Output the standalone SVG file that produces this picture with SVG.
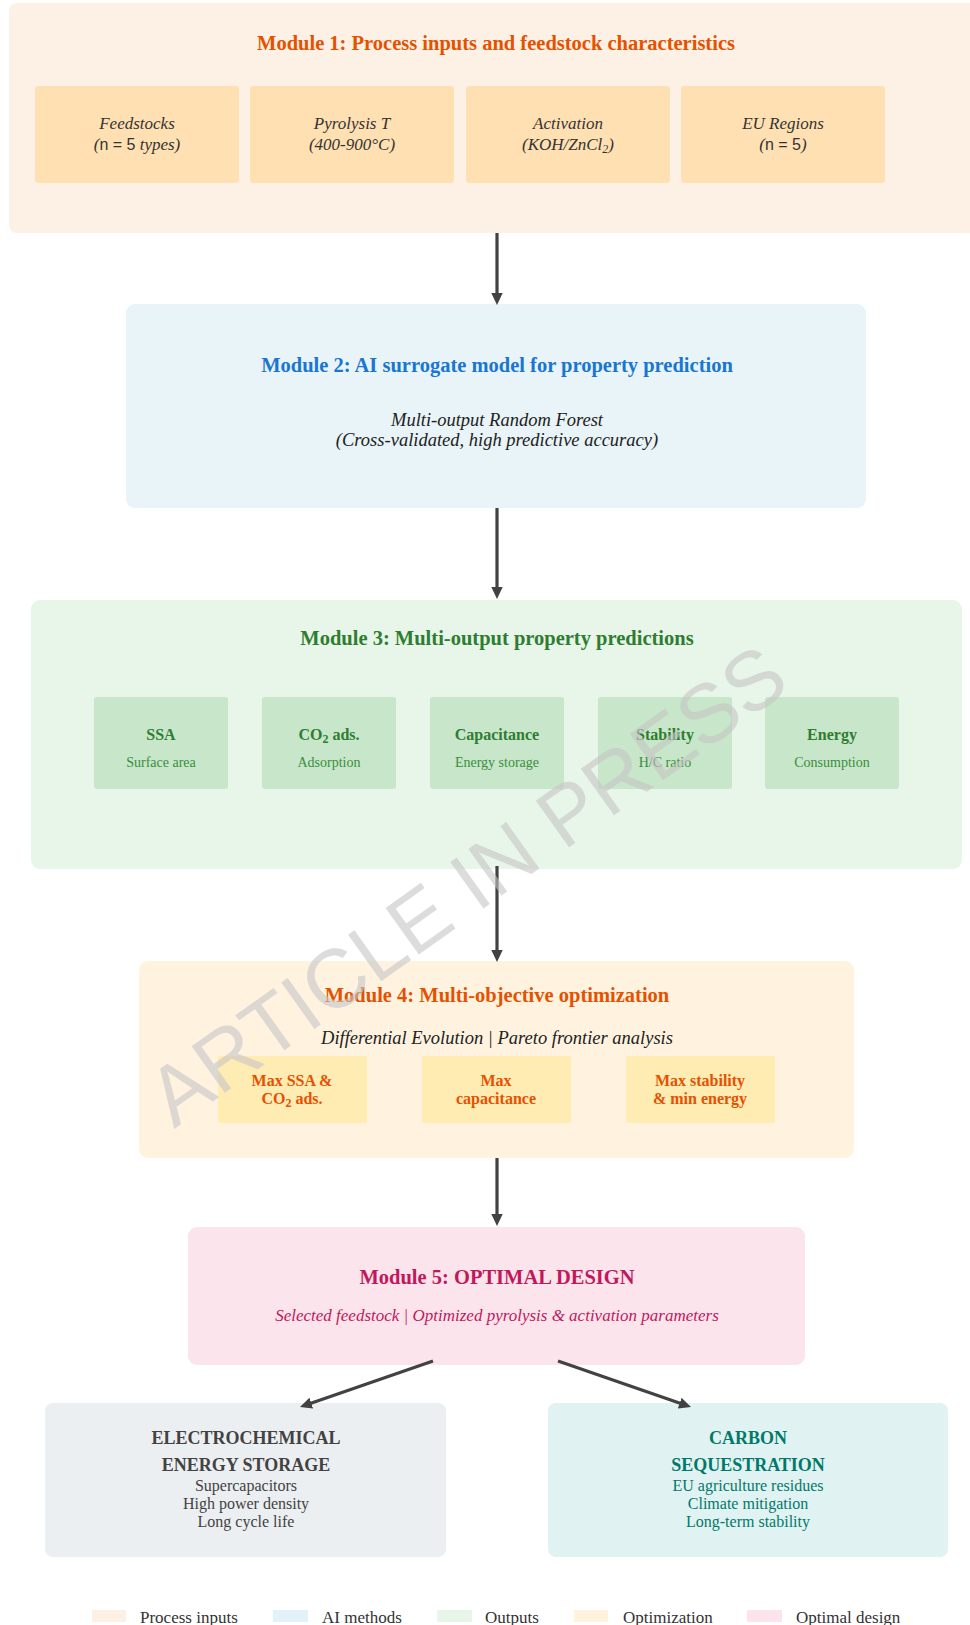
<svg xmlns="http://www.w3.org/2000/svg" width="970" height="1625" viewBox="0 0 970 1625">
<defs>
<style>
text{font-family:"Liberation Serif","Times New Roman",serif}
.title{font-size:20.5px;font-weight:bold;text-anchor:middle}
.it{font-size:18.5px;font-style:italic;fill:#222;text-anchor:middle}
.in{font-size:17px;font-style:italic;fill:#333;text-anchor:middle}
.sans{font-family:"Liberation Sans",Arial,sans-serif;font-style:normal}
.gb{font-size:16px;font-weight:bold;fill:#2e7d32;text-anchor:middle}
.gs{font-size:14px;fill:#388e3c;text-anchor:middle}
.ob{font-size:16px;font-weight:bold;fill:#e65100;text-anchor:middle}
.bt{font-size:18px;font-weight:bold;text-anchor:middle}
.bl{font-size:16px;text-anchor:middle}
.leg{font-size:17px;fill:#333}
.wm{font-family:"Liberation Sans",Arial,sans-serif;font-size:83px;fill:#c4c4c4;fill-opacity:0.6;text-anchor:middle}
.conn{stroke:#424242;stroke-width:3.2;fill:none;marker-end:url(#ah)}
</style>
<marker id="ah" markerUnits="userSpaceOnUse" markerWidth="13" markerHeight="13" viewBox="0 0 13 13" refX="5" refY="6.5" orient="auto">
<path d="M0,0.8 L12,6.5 L0,12.2 z" fill="#424242"/>
</marker>
</defs>
<rect width="970" height="1625" fill="#ffffff"/>

<g id="module1">
<rect x="9" y="3" width="975" height="230" rx="8" fill="#fdf1e5"/>
<text class="title" x="496" y="50" fill="#e65100">Module 1: Process inputs and feedstock characteristics</text>
<g id="m1-feedstocks">
<rect x="35" y="86" width="204" height="97" rx="3" fill="#ffe0b2"/>
<text class="in" x="137" y="129">Feedstocks</text>
<text class="in" x="137" y="150">(<tspan class="sans" font-size="16">n = 5</tspan> types)</text>
</g>
<g id="m1-pyrolysis">
<rect x="250" y="86" width="204" height="97" rx="3" fill="#ffe0b2"/>
<text class="in" x="352" y="129">Pyrolysis T</text>
<text class="in" x="352" y="150">(400-900°C)</text>
</g>
<g id="m1-activation">
<rect x="466" y="86" width="204" height="97" rx="3" fill="#ffe0b2"/>
<text class="in" x="568" y="129">Activation</text>
<text class="in" x="568" y="150">(KOH/ZnCl<tspan font-size="12" dy="3">2</tspan><tspan dy="-3">)</tspan></text>
</g>
<g id="m1-regions">
<rect x="681" y="86" width="204" height="97" rx="3" fill="#ffe0b2"/>
<text class="in" x="783" y="129">EU Regions</text>
<text class="in" x="783" y="150">(<tspan class="sans" font-size="16">n = 5</tspan>)</text>
</g>
</g>

<g id="module2">
<rect x="126" y="304" width="740" height="204" rx="9" fill="#e8f4f8"/>
<text class="title" x="497" y="372" fill="#1976d2">Module 2: AI surrogate model for property prediction</text>
<text class="it" x="497" y="426">Multi-output Random Forest</text>
<text class="it" x="497" y="446">(Cross-validated, high predictive accuracy)</text>
</g>

<g id="module3">
<rect x="31" y="600" width="931" height="269" rx="9" fill="#e8f5e9"/>
<text class="title" x="497" y="645" fill="#2e7d32">Module 3: Multi-output property predictions</text>
<g id="m3-ssa">
<rect x="94" y="697" width="134" height="92" rx="3" fill="#c8e6c9"/>
<text class="gb" x="161" y="740">SSA</text>
<text class="gs" x="161" y="767">Surface area</text>
</g>
<g id="m3-co2">
<rect x="262" y="697" width="134" height="92" rx="3" fill="#c8e6c9"/>
<text class="gb" x="329" y="740">CO<tspan font-size="12" dy="3">2</tspan><tspan dy="-3"> ads.</tspan></text>
<text class="gs" x="329" y="767">Adsorption</text>
</g>
<g id="m3-cap">
<rect x="430" y="697" width="134" height="92" rx="3" fill="#c8e6c9"/>
<text class="gb" x="497" y="740">Capacitance</text>
<text class="gs" x="497" y="767">Energy storage</text>
</g>
<g id="m3-stab">
<rect x="598" y="697" width="134" height="92" rx="3" fill="#c8e6c9"/>
<text class="gb" x="665" y="740">Stability</text>
<text class="gs" x="665" y="767">H/C ratio</text>
</g>
<g id="m3-energy">
<rect x="765" y="697" width="134" height="92" rx="3" fill="#c8e6c9"/>
<text class="gb" x="832" y="740">Energy</text>
<text class="gs" x="832" y="767">Consumption</text>
</g>
</g>

<g id="module4">
<rect x="139" y="961" width="715" height="197" rx="9" fill="#fff3e0"/>
<text class="title" x="497" y="1002" fill="#e65100">Module 4: Multi-objective optimization</text>
<text class="it" x="497" y="1044">Differential Evolution | Pareto frontier analysis</text>
<g id="m4-obj1">
<rect x="218" y="1056" width="149" height="67" rx="2" fill="#ffecb3"/>
<text class="ob" x="292" y="1086">Max SSA &amp;</text>
<text class="ob" x="292" y="1104">CO<tspan font-size="12" dy="3">2</tspan><tspan dy="-3"> ads.</tspan></text>
</g>
<g id="m4-obj2">
<rect x="422" y="1056" width="149" height="67" rx="2" fill="#ffecb3"/>
<text class="ob" x="496" y="1086">Max</text>
<text class="ob" x="496" y="1104">capacitance</text>
</g>
<g id="m4-obj3">
<rect x="626" y="1056" width="149" height="67" rx="2" fill="#ffecb3"/>
<text class="ob" x="700" y="1086">Max stability</text>
<text class="ob" x="700" y="1104">&amp; min energy</text>
</g>
</g>

<g id="module5">
<rect x="188" y="1227" width="617" height="138" rx="9" fill="#fce4ec"/>
<text class="title" x="497" y="1284" fill="#c2185b">Module 5: OPTIMAL DESIGN</text>
<text x="497" y="1321" font-size="17" font-style="italic" fill="#c2185b" text-anchor="middle">Selected feedstock | Optimized pyrolysis &amp; activation parameters</text>
</g>

<g id="energy-storage">
<rect x="45" y="1403" width="401" height="154" rx="8" fill="#eceff1"/>
<text class="bt" x="246" y="1444" fill="#424242">ELECTROCHEMICAL</text>
<text class="bt" x="246" y="1471" fill="#424242">ENERGY STORAGE</text>
<text class="bl" x="246" y="1491" fill="#424242">Supercapacitors</text>
<text class="bl" x="246" y="1509" fill="#424242">High power density</text>
<text class="bl" x="246" y="1527" fill="#424242">Long cycle life</text>
</g>

<g id="carbon-sequestration">
<rect x="548" y="1403" width="400" height="154" rx="8" fill="#e0f2f1"/>
<text class="bt" x="748" y="1444" fill="#00796b">CARBON</text>
<text class="bt" x="748" y="1471" fill="#00796b">SEQUESTRATION</text>
<text class="bl" x="748" y="1491" fill="#00796b">EU agriculture residues</text>
<text class="bl" x="748" y="1509" fill="#00796b">Climate mitigation</text>
<text class="bl" x="748" y="1527" fill="#00796b">Long-term stability</text>
</g>

<g id="connectors">
<path class="conn" d="M497,233 L497,298"/>
<path class="conn" d="M497,508 L497,592"/>
<path class="conn" d="M497,866 L497,955"/>
<path class="conn" d="M497,1158 L497,1219"/>
<path class="conn" d="M433,1361 L306.6,1404.7"/>
<path class="conn" d="M558,1361 L684.4,1404.7"/>
</g>

<g id="legend">
<rect x="92" y="1610" width="34" height="12" fill="#fdf1e5"/>
<text class="leg" x="140" y="1623">Process inputs</text>
<rect x="273" y="1610" width="35" height="12" fill="#e3f2f8"/>
<text class="leg" x="322" y="1623">AI methods</text>
<rect x="437" y="1610" width="35" height="12" fill="#e8f5e9"/>
<text class="leg" x="485" y="1623">Outputs</text>
<rect x="574" y="1610" width="34" height="12" fill="#fff3e0"/>
<text class="leg" x="623" y="1623">Optimization</text>
<rect x="747" y="1610" width="35" height="12" fill="#fce4ec"/>
<text class="leg" x="796" y="1623">Optimal design</text>
</g>

<g id="watermark">
<text class="wm" transform="translate(466,884) rotate(-35.5)" x="0" y="30">ARTICLE IN PRESS</text>
</g>
</svg>
